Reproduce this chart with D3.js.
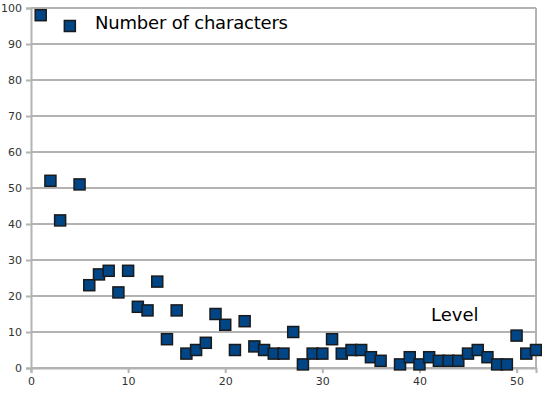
<!DOCTYPE html>
<html>
<head>
<meta charset="utf-8">
<script src="https://cdn.jsdelivr.net/npm/d3@7"></script>
<style>
  body { margin: 0; background: #fff; }
  text { font-family: "DejaVu Sans", sans-serif; }
</style>
</head>
<body>
<div id="chart"></div>
<script>
// levels and number of characters per level
var levels = [1, 2, 3, 5, 6, 7, 8, 9, 10, 11, 12, 13, 14, 15, 16, 17, 18, 19, 20, 21, 22, 23, 24, 25, 26,
  27, 28, 29, 30, 31, 32, 33, 34, 35, 36, 38, 39, 40, 41, 42, 43, 44, 45, 46, 47, 48, 49, 50, 51, 52];
var characters = [98, 52, 41, 51, 23, 26, 27, 21, 27, 17, 16, 24, 8, 16, 4, 5, 7, 15, 12, 5, 13, 6, 5, 4, 4,
  10, 1, 4, 4, 8, 4, 5, 5, 3, 2, 1, 3, 1, 3, 2, 2, 2, 4, 5, 3, 1, 1, 9, 4, 5];
var xTicks = [0, 10, 20, 30, 40, 50];
var yTicks = [0, 10, 20, 30, 40, 50, 60, 70, 80, 90, 100];
var seriesName = "Number of characters";
var axisName = "Level";

var width = 542, height = 396;
var margin = { top: 8, right: 6, bottom: 28, left: 31 };
var gray = "#b3b3b3";

var svg = d3.select("#chart").append("svg").attr("width", width).attr("height", height);

var x = d3.scaleLinear().domain([0, 52]).range([margin.left, width - margin.right]);
var y = d3.scaleLinear().domain([0, 100]).range([height - margin.bottom, margin.top]);

// horizontal grid lines
svg.selectAll(".grid").data(yTicks).join("line").attr("class", "grid")
  .attr("x1", x(0)).attr("x2", x(52)).attr("y1", d => y(d)).attr("y2", d => y(d))
  .attr("stroke", gray).attr("stroke-width", 2);
// right border
svg.append("line").attr("x1", x(52)).attr("x2", x(52)).attr("y1", y(100)).attr("y2", y(0))
  .attr("stroke", gray).attr("stroke-width", 2);

var xAxis = svg.append("g").attr("transform", "translate(0," + y(0) + ")")
  .call(d3.axisBottom(x).tickValues(xTicks).tickSize(5).tickPadding(4));
var yAxis = svg.append("g").attr("transform", "translate(" + x(0) + ",0)")
  .call(d3.axisLeft(y).tickValues(yTicks).tickSize(5).tickPadding(4));
[xAxis, yAxis].forEach(function (g) {
  g.select(".domain").attr("stroke", gray).attr("stroke-width", 2);
  g.selectAll(".tick line").attr("stroke", gray).attr("stroke-width", 2);
  g.selectAll(".tick text").attr("fill", "#333").style("font-size", "11px")
    .style("font-family", "'DejaVu Sans', sans-serif");
});

// points
var s = 11;
svg.selectAll(".pt").data(levels).join("rect").attr("class", "pt")
  .attr("x", d => x(d) - s / 2).attr("y", (d, i) => y(characters[i]) - s / 2)
  .attr("width", s).attr("height", s)
  .attr("fill", "#004586").attr("stroke", "#1a1a1a").attr("stroke-width", 1.5);

// legend
svg.append("rect").attr("x", x(4) - s / 2).attr("y", y(95) - s / 2).attr("width", s).attr("height", s)
  .attr("fill", "#004586").attr("stroke", "#1a1a1a").attr("stroke-width", 1.5);
svg.append("text").attr("x", 95).attr("y", 29).text(seriesName)
  .style("font-size", "18px").attr("fill", "#000").attr("textLength", 193);
svg.append("text").attr("x", 431).attr("y", 321).text(axisName)
  .style("font-size", "18px").attr("fill", "#000");
</script>
</body>
</html>
